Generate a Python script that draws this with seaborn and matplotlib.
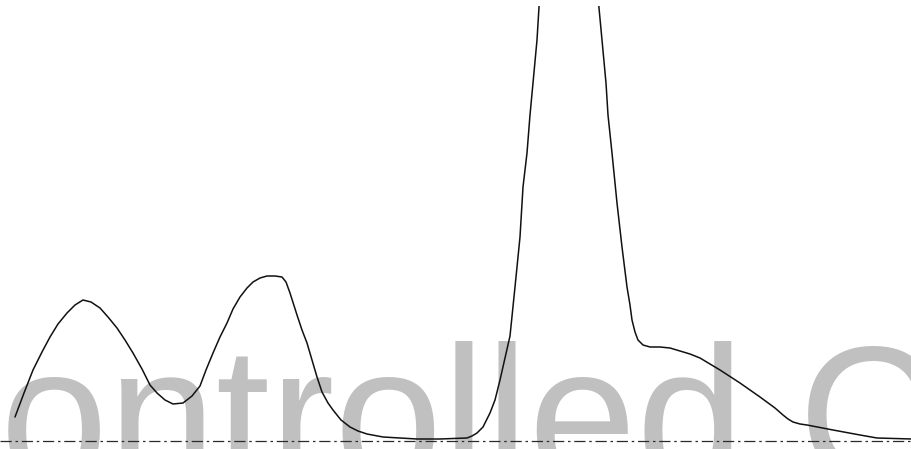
import matplotlib
matplotlib.use("Agg")
import matplotlib.pyplot as plt
import seaborn as sns
import pandas as pd

# Detector trace: retention position and signal height above baseline
time = [15, 24, 33, 42, 50, 58, 67, 75, 83, 91, 100, 108, 117, 125, 133,
        142, 150, 157, 165, 173, 183, 192, 200, 206, 213, 220, 227, 233, 240,
        247, 253, 260, 267, 275, 282, 286, 290, 297, 302, 307, 312, 317, 322,
        328, 333, 341, 350, 358, 367, 383, 400, 417, 440, 467, 472, 477, 483,
        490, 495, 500, 505, 510, 515, 520, 523, 527, 530, 533, 537, 539,
        545, 556, 569, 582, 593,
        599, 602, 606, 608, 612, 617, 622, 627, 630, 632, 635, 638, 643, 650,
        660, 670, 680, 690, 700, 710, 720, 740, 760, 775, 783, 788, 793, 800,
        807, 833, 860, 877, 912]
signal = [24, 48, 71, 89, 104, 117, 128, 136, 141, 139, 133, 124, 113, 101, 88,
          72, 56, 48, 41, 37, 38, 45, 55, 71, 88, 104, 118, 132, 144,
          153, 159, 163, 165, 165, 164, 159, 148, 126, 111, 98, 81, 64, 49,
          38, 31, 21, 14, 10, 7, 4, 3, 2, 2, 3, 5, 8, 14,
          28, 41, 61, 83, 105, 154, 204, 254, 288, 326, 358, 401, 434,
          501, 591, 626, 591, 501,
          433, 401, 358, 326, 288, 238, 194, 154, 136, 121, 109, 101, 96, 94,
          94, 93, 90, 87, 83, 77, 71, 58, 44, 33, 26, 22, 19, 17,
          16, 11, 6, 3, 2]

watermark = "Controlled Copy"

df = pd.DataFrame({"time": time, "signal": signal})

sns.set_style("white")
fig = plt.figure(figsize=(9.12, 4.49), dpi=100)
ax = fig.add_axes([0, 0, 1, 443 / 449])
ax.set_xlim(0, 912)
ax.set_ylim(-8, 435)
ax.axis("off")

# Large grey stamp sitting behind the trace
ax.text(-140, -41, watermark, fontsize=139.7, family="Liberation Sans",
        color="#c0c0c0", ha="left", va="baseline", zorder=0, clip_on=False)

# Dash-dot baseline
ax.axhline(0, color="#2a2a2a", lw=0.9, ls=(0, (9, 3, 2, 3)), zorder=2)

sns.lineplot(data=df, x="time", y="signal", ax=ax, color="#111111",
             lw=1.1, estimator=None, sort=False, zorder=3)
ax.axis("off")

fig.savefig("out.png", dpi=100, facecolor="white")
